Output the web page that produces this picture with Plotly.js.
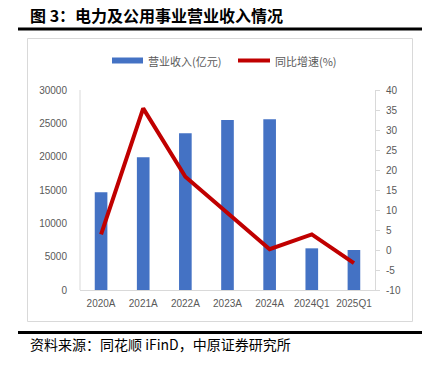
<!DOCTYPE html>
<html><head><meta charset="utf-8">
<script src="https://cdn.plot.ly/plotly-3.0.1.min.js"></script>
<style>html,body{margin:0;padding:0;background:#fff;}#chart{width:431px;height:368px;}</style>
</head><body><div id="chart"></div>
<script>
const categories = ['2020A','2021A','2022A','2023A','2024A','2024Q1','2025Q1'];
const revenue = [14650, 19900, 23500, 25500, 25600, 6250, 6000];
const growth = [3.9, 35.4, 18.3, 9.2, 0.2, 3.9, -3.3];
const seriesNames = ['营业收入(亿元)', '同比增速(%)'];
const leftTicks = [0,5000,10000,15000,20000,25000,30000];
const rightTicks = [-10,-5,0,5,10,15,20,25,30,35,40];
const titleText = '图 3：电力及公用事业营业收入情况';
const sourceText = '资料来源：同花顺 iFinD，中原证券研究所';

const W=431,H=368,L=80,R=56,T=90,B=78;
const pw=W-L-R, ph=H-T-B;
const px = x => (x-L)/pw;
const py = y => (H-B-y)/ph;
const gray='#595959';
const cjk='"Noto Sans CJK SC", "Liberation Sans", sans-serif';
const num='"Liberation Sans", Arial, sans-serif';

const traces = [
 {type:'bar', x:categories, y:revenue, name:seriesNames[0], marker:{color:'#4472C4'}, yaxis:'y', showlegend:false, hoverinfo:'none'},
 {type:'scatter', mode:'lines', x:categories, y:growth, name:seriesNames[1], line:{color:'#C00000', width:4}, yaxis:'y2', showlegend:false, hoverinfo:'none'}
];

const shapes = [
 {type:'line', xref:'paper', yref:'paper', x0:px(18), x1:px(422), y0:py(29), y1:py(29), line:{color:'#000', width:3}},
 {type:'line', xref:'paper', yref:'paper', x0:px(18), x1:px(422), y0:py(332.5), y1:py(332.5), line:{color:'#000', width:3}},
 {type:'rect', xref:'paper', yref:'paper', x0:px(27.5), x1:px(412.5), y0:py(38.5), y1:py(321.5), line:{color:'#D9D9D9', width:1}},
 {type:'rect', xref:'paper', yref:'paper', x0:px(112), x1:px(143), y0:py(57.5), y1:py(63.5), fillcolor:'#4472C4', line:{width:0}},
 {type:'line', xref:'paper', yref:'paper', x0:px(238), x1:px(270), y0:py(60.5), y1:py(60.5), line:{color:'#C00000', width:4}},
 {type:'line', xref:'paper', yref:'paper', x0:0, x1:0, y0:0, y1:1, line:{color:'#D9D9D9', width:1}}
];

const annotations = [
 {xref:'paper', yref:'paper', x:px(28), y:py(15), xanchor:'left', yanchor:'middle', showarrow:false, text:'<b>'+titleText+'</b>', font:{family:cjk, size:16, color:'#000'}},
 {xref:'paper', yref:'paper', x:px(28), y:py(343.5), xanchor:'left', yanchor:'middle', showarrow:false, text:sourceText, font:{family:cjk, size:14, color:'#000'}},
 {xref:'paper', yref:'paper', x:px(146), y:py(60.5), xanchor:'left', yanchor:'middle', showarrow:false, text:seriesNames[0], font:{family:cjk, size:11, color:gray}},
 {xref:'paper', yref:'paper', x:px(273), y:py(60.5), xanchor:'left', yanchor:'middle', showarrow:false, text:seriesNames[1], font:{family:cjk, size:11, color:gray}}
];

const layout = {
 width:W, height:H, margin:{l:L, r:R, t:T, b:B, pad:0},
 paper_bgcolor:'#fff', plot_bgcolor:'#fff',
 bargap:0.7, showlegend:false,
 xaxis:{type:'category', showgrid:false, zeroline:false, showline:true, linecolor:'#D9D9D9', linewidth:1, ticks:'', tickfont:{family:num, size:10, color:gray}, ticklabelstandoff:4},
 yaxis:{range:[0,30000], tickvals:leftTicks, ticktext:leftTicks.map(String), showgrid:false, zeroline:false, showline:false, ticks:'', tickfont:{family:num, size:10, color:gray}, ticklabelstandoff:12},
 yaxis2:{range:[-10,40], tickvals:rightTicks, ticktext:rightTicks.map(String), overlaying:'y', side:'right', showgrid:false, zeroline:false, showline:true, linecolor:'#D9D9D9', linewidth:1, ticks:'outside', ticklen:4, tickcolor:'#D9D9D9', tickfont:{family:num, size:10, color:gray}, ticklabelstandoff:4},
 shapes:shapes, annotations:annotations
};
Plotly.newPlot('chart', traces, layout, {staticPlot:true, displayModeBar:false});
</script></body></html>
